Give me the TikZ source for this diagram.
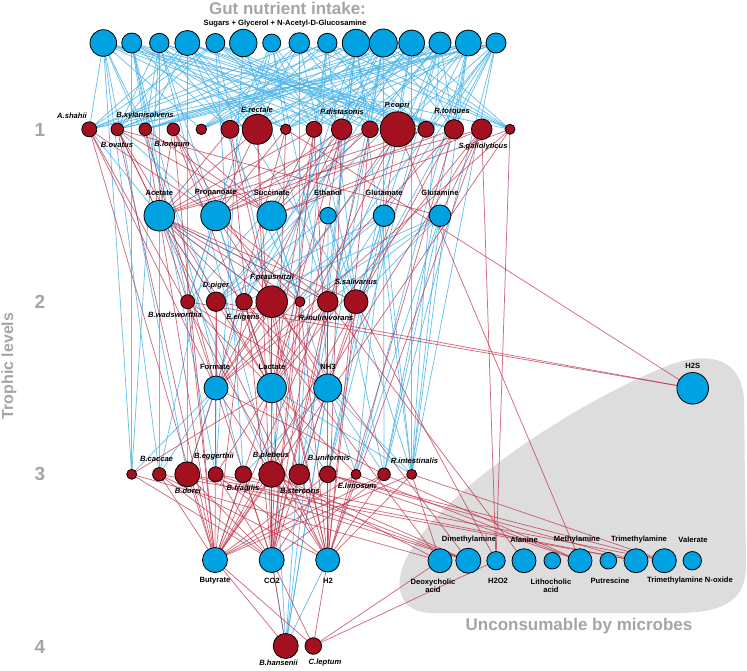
\documentclass[tikz,border=0pt]{standalone}
\usepackage{fontspec}
\setmainfont{Liberation Sans}
\pgfdeclarelayer{bg}
\pgfdeclarelayer{edges}
\pgfsetlayers{bg,edges,main}
\definecolor{nblue}{RGB}{0,162,225}
\definecolor{nred}{RGB}{163,16,32}
\definecolor{eblue}{RGB}{70,178,232}
\definecolor{ered}{RGB}{188,45,70}
\definecolor{gtext}{RGB}{165,165,165}
\definecolor{blob}{RGB}{221,221,221}
\tikzset{
  bn/.style={circle,draw=black,line width=0.8pt,fill=nblue,inner sep=0pt},
  rn/.style={circle,draw=black,line width=0.8pt,fill=nred,inner sep=0pt},
  be/.style={draw=eblue,line width=0.75pt,opacity=0.8},
  re/.style={draw=ered,line width=0.75pt,opacity=0.7},
  lab/.style={font=\fontsize{7.6}{8}\selectfont\bfseries,inner sep=0pt},
  mlab/.style={font=\fontsize{7.6}{8}\selectfont\bfseries\itshape,inner sep=0pt},
  ttl/.style={font=\fontsize{17}{18}\selectfont\bfseries,text=gtext,inner sep=0pt},
  lvl/.style={font=\fontsize{19}{20}\selectfont\bfseries,text=gtext,inner sep=0pt}
}
\begin{document}
\begin{tikzpicture}[x=1pt,y=-1pt]
\useasboundingbox (0,0) rectangle (747,670);
% background blob
\begin{pgfonlayer}{bg}
\fill[blob] (430,613) .. controls (392,611) and (394,575) .. (412,548)
  .. controls (455,480) and (585,398) .. (672,364)
  .. controls (715,350) and (742,362) .. (744,400)
  -- (746,565) .. controls (746,600) and (725,612) .. (680,613) -- cycle;
\end{pgfonlayer}
% nutrients
\foreach \x/\r [count=\i] in {103.3/13.3,131.7/10,159.3/9.7,187.3/12.5,215.3/9.5,243.3/13.7,271.7/9,299.3/10.3,327.3/9.7,356/13.7,383.3/14,411.7/13,440/11,468.3/13,496/10}
  \node[bn,minimum size=2*\r] (n\i) at (\x,43) {};
% trophic level 1
\foreach \x/\r [count=\i] in {89.3/7.5,117.3/6.3,145.3/6.3,173.3/6.3,201.3/5.3,230/9,257.3/15,285.7/5.3,314/8,341.7/10.3,370/8.3,397.7/17.5,426/8,454/9.7,481.7/10.3,510/5}
  \node[rn,minimum size=2*\r] (a\i) at (\x,129.3) {};
% metabolites
\foreach \x/\r [count=\i] in {159.3/15.3,215.7/15,271.7/14.7,328/8.3,384/10.8,440/10.8}
  \node[bn,minimum size=2*\r] (m\i) at (\x,215.7) {};
% trophic level 2
\foreach \x/\r [count=\i] in {187.7/7,216/9.7,244/8.3,271.7/15.8,300/5,327.7/10.3,356/12}
  \node[rn,minimum size=2*\r] (b\i) at (\x,301.7) {};
% formate row
\foreach \x/\r [count=\i] in {216/12,271.7/14.7,327.7/14}
  \node[bn,minimum size=2*\r] (f\i) at (\x,388) {};
\node[bn,minimum size=31.6] (hs) at (692.7,388.3) {};
% trophic level 3
\foreach \x/\r [count=\i] in {131.7/5,159.3/6.7,187.3/12.5,215.7/7.5,243.3/8.3,271.7/13,299.3/10.3,327.7/8.3,356/5,384/6.3,411.7/5}
  \node[rn,minimum size=2*\r] (c\i) at (\x,474.3) {};
% butyrate row
\foreach \x/\r [count=\i] in {215/12.5,271.7/12.5,327.7/12}
  \node[bn,minimum size=2*\r] (d\i) at (\x,560) {};
% unconsumable
\foreach \x/\r [count=\i] in {440/12,468.3/12.5,496/9.2,524/12,552.3/8.3,580/12,608.3/8.3,636/12,664.3/12,692.3/9.2}
  \node[bn,minimum size=2*\r] (u\i) at (\x,560.7) {};
% trophic level 4
\node[rn,minimum size=25] (e1) at (285.7,646) {};
\node[rn,minimum size=16.6] (e2) at (313.3,646) {};

% ---------------- edges
\begin{pgfonlayer}{edges}
% nutrients -> level 1 (consumption)
\foreach \i in {1,...,15}{
  \foreach \j in {1,...,16}{
    \pgfmathtruncatemacro\v{mod(\i*7+\j*5+\i*\j,11)}
    \ifnum\v<5 \draw[be] (n\i.center) -- (a\j.center);\fi
  }
}
% nutrients -> lower levels
\foreach \s/\t in {n1/c1,n2/c1,n1/c2,n3/c2,n2/b1,n1/b2,n3/b3,n5/b4,n7/b6,n9/b7,n11/b4,n13/b6,n15/b7,n4/b5,n12/b3,n14/b2,n10/b4,n6/b6,n8/b7,
  n12/c11,n13/c11,n14/c11,n15/c11,n11/c10,n15/c10,n9/c6,n6/c4,n10/c11,n14/c9,n13/c8,n4/c3,n5/c5,n8/c7,n11/e1,n9/e1,n10/e1,n2/c4,n3/c6,
  n12/b1,n13/b2,n14/b4,n15/b5,n11/b3,n10/b6,n7/b1,n1/c3,n2/c5,n3/c1,n14/c10,n12/c8,n15/b6,n13/b7,n11/c7,n4/b7}
  \draw[be] (\s.center) -- (\t.center);
% metabolites consumed
\foreach \s/\t in {m1/b4,m1/b6,m1/b2,m2/b1,m3/b5,m4/b2,m5/b7,m6/b7,m6/b3,m5/b2,m4/b6,
  m1/c6,m2/c7,m3/c3,m5/c11,m6/c11,m4/c10,m6/c10,m5/c8,m3/c9,m2/c2,
  f2/c8,f3/c5,f3/c7,f1/c4,f2/e1,f3/c10,f2/c11,d2/e1,d3/e1,f3/e1,m6/c9,m1/a1,m2/a2,
  m5/b4,m6/b5,m6/b6,m4/c11,f1/c1,f1/c2,f3/c11,m5/c9}
  \draw[be] (\s.center) -- (\t.center);
% level 1 production
\foreach \t/\th [count=\k] in {m1/7,m2/7,m3/6,m4/2,m5/1,m6/1,f1/5,f2/6,f3/3,d1/4,d2/6,d3/5}{
  \foreach \j in {1,...,16}{
    \pgfmathtruncatemacro\v{mod(\j*5+\k*3+\j*\k*2,13)}
    \ifnum\v<\th \draw[re] (a\j.center) -- (\t.center);\fi
  }
}
% level 2 production
\foreach \t/\th [count=\k] in {f1/6,f2/7,f3/5,d1/7,d2/7,d3/6,m1/3,m2/3}{
  \foreach \j in {1,...,7}{
    \pgfmathtruncatemacro\v{mod(\j*4+\k*5+\j*\k,11)}
    \ifnum\v<\th \draw[re] (b\j.center) -- (\t.center);\fi
  }
}
% level 3 production
\foreach \t/\th [count=\k] in {d1/8,d2/8,d3/7,f2/3,f1/3,u1/3,u2/4,u4/3,u6/3,u8/3,u9/3}{
  \foreach \j in {1,...,11}{
    \pgfmathtruncatemacro\v{mod(\j*3+\k*4+\j*\k,11)}
    \ifnum\v<\th \draw[re] (c\j.center) -- (\t.center);\fi
  }
}
% other production
\foreach \s/\t in {b1/hs,b2/hs,a8/hs,a15/u3,a16/u3,b7/u3,b4/u2,b6/u4,b3/u1,a12/u6,
  e2/d1,e2/d2,e2/d3,e2/u1,e2/u3,e1/d1,e1/d2}
  \draw[re] (\s.center) -- (\t.center);
\end{pgfonlayer}

% ---------------- labels
\node[ttl] (t1) at (287.5,8) {Gut nutrient intake:};
\node[lab] (t2) at (285,24) {Sugars + Glycerol + N-Acetyl-D-Glucosamine};
\node[ttl] (t3) at (579,626) {Unconsumable by microbes};
\node[lvl] (l1) at (40,130) {1};
\node[lvl] (l2) at (40,302) {2};
\node[lvl] (l3) at (40,474) {3};
\node[lvl] (l4) at (40,647) {4};
\node[ttl,font=\fontsize{16}{17}\selectfont\bfseries,rotate=90] (tl) at (9,366) {Trophic levels};
% level 1 names
\node[mlab] (la1) at (72,116) {A.shahii};
\node[mlab] (la2) at (145,116) {B.xylanisolvens};
\node[mlab] (la3) at (117,144.5) {B.ovatus};
\node[mlab] (la4) at (172,144.5) {B.longum};
\node[mlab] (la5) at (257,110) {E.rectale};
\node[mlab] (la6) at (342,112) {P.distasonis};
\node[mlab] (la7) at (397,106) {P.copri};
\node[mlab] (la8) at (452,112) {R.torques};
\node[mlab] (la9) at (483,147) {S.gallolyticus};
% metabolite names
\foreach \x/\t [count=\i] in {159.3/Acetate,215.7/Propanoate,271.7/Succinate,328/Ethanol,384/Glutamate,440/Glutamine}
  \node[lab] (lm\i) at (\x,193) {\t};
% level 2 names
\node[mlab] (lb1) at (175,315) {B.wadsworthia};
\node[mlab] (lb2) at (216,286) {D.piger};
\node[mlab] (lb3) at (243,318) {E.eligens};
\node[mlab] (lb4) at (272,278) {F.prausnitzii};
\node[mlab] (lb5) at (326,318) {R.inulinivorans};
\node[mlab] (lb6) at (356,282) {S.salivarius};
% formate row
\node[lab] (lf1) at (215,367) {Formate};
\node[lab] (lf2) at (272,367) {Lactate};
\node[lab] (lf3) at (328,367) {NH3};
\node[lab] (lhs) at (692.7,366) {H2S};
% level 3 names
\node[mlab] (lc1) at (156.5,459) {B.caccae};
\node[mlab] (lc2) at (214,457) {B.eggerthii};
\node[mlab] (lc3) at (271,456) {B.plebeus};
\node[mlab] (lc4) at (329,458) {B.uniformis};
\node[mlab] (lc5) at (414.5,461) {R.intestinalis};
\node[mlab] (lc6) at (188,491) {B.dorei};
\node[mlab] (lc7) at (243,488.5) {B.fragilis};
\node[mlab] (lc8) at (300,491) {B.stercoris};
\node[mlab] (lc9) at (357,486) {E.limosum};
% bottom metabolites
\node[lab] (ld1) at (215,581) {Butyrate};
\node[lab] (ld2) at (272,581) {CO2};
\node[lab] (ld3) at (328,581) {H2};
\node[lab] (lu2) at (469,540) {Dimethylamine};
\node[lab] (lu4) at (524,540) {Alanine};
\node[lab] (lu6) at (577,540) {Methylamine};
\node[lab] (lu8) at (639,540) {Trimethylamine};
\node[lab] (lu10) at (693,540) {Valerate};
\node[lab,align=center] (lu1) at (433,585.5) {Deoxycholic\\acid};
\node[lab] (lu3) at (498,581) {H2O2};
\node[lab,align=center] (lu5) at (551,585.5) {Lithocholic\\acid};
\node[lab] (lu7) at (610,581) {Putrescine};
\node[lab] (lu9) at (690,581) {Trimethylamine N-oxide};
% level 4 names
\node[mlab] (le1) at (278.5,663) {B.hansenii};
\node[mlab] (le2) at (325,663) {C.leptum};
\end{tikzpicture}
\end{document}
